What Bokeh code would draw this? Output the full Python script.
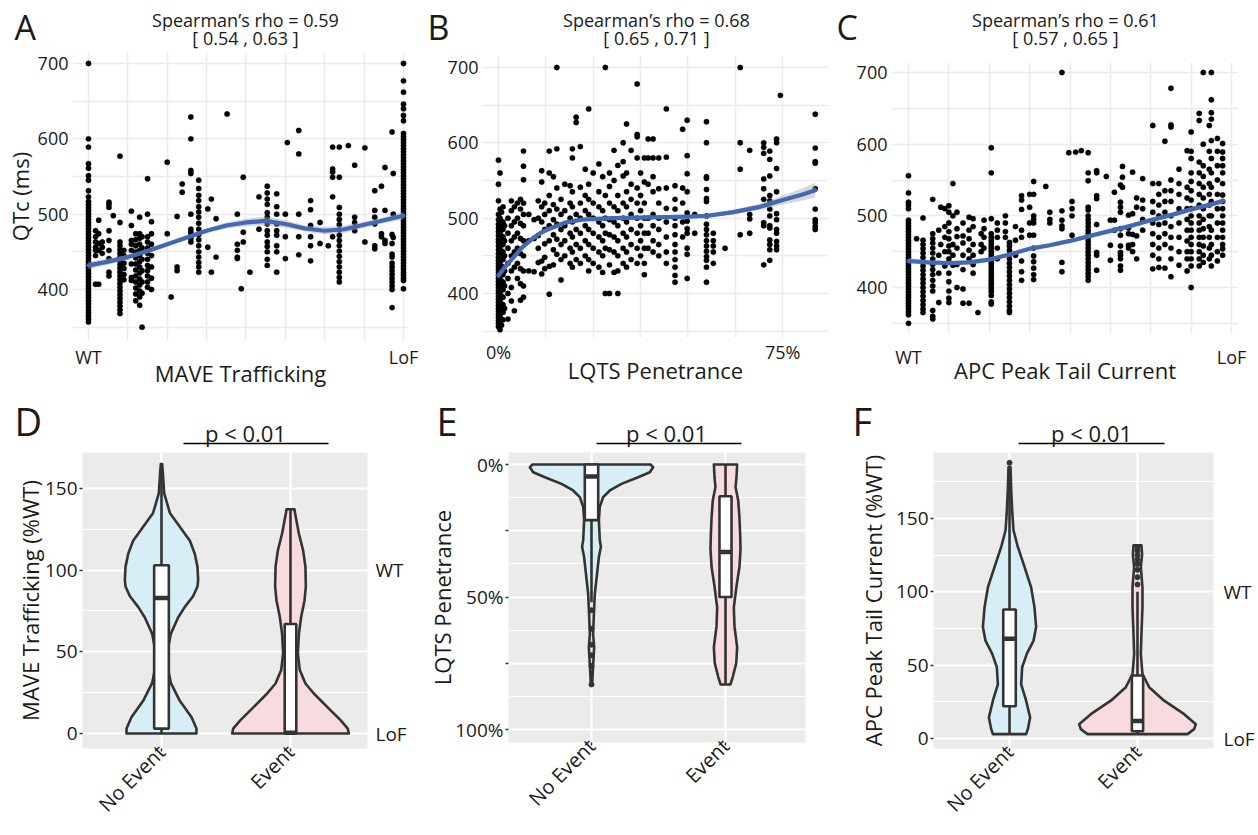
import math
from bokeh.plotting import figure
from bokeh.models import Range1d, FixedTicker, LinearAxis
from bokeh.layouts import row, column
from bokeh.embed import file_html
from bokeh.resources import INLINE
from bokeh.core.properties import value

FONT = "Open Sans"
TXT = "#1a1a1a"
DARK = "#333333"

# ------------------------------------------------------------------ data
# Panel A : MAVE trafficking score (0 = WT ... 8 = LoF) vs QTc (ms)
a_cols = [0, 0.18, 0.26, 0.35, 0.52, 0.63, 0.8, 0.9, 1.09, 1.2, 1.3, 1.36, 1.5, 1.6, 2.0, 2.1,
          2.25, 2.38, 2.6, 2.8, 3.03, 3.12, 3.24, 3.52, 3.78, 3.88, 3.93, 4.1, 4.33, 4.54, 4.78,
          5.0, 5.05, 5.34, 5.64, 5.88, 6.09, 6.2, 6.37, 6.6, 6.76, 7.02, 7.27, 7.44, 7.53, 7.71,
          7.74, 8.0]
a_vals = [
    [700, 600, 589, 567, 561, 551, 545, 531, 523, 517, 513, 509, 505, 501, 497, 493, 489, 485, 481,
     477, 473, 469, 465, 461, 457, 453, 449, 445, 441, 437, 433, 429, 425, 421, 417, 413, 409, 405,
     401, 397, 393, 389, 385, 381, 377, 373, 369, 365, 361, 357],
    [478, 470, 463, 456, 452, 445, 407],
    [492, 474, 461, 452, 407],
    [463, 456, 448],
    [516, 513, 509, 478, 465, 452, 441, 423, 418],
    [498],
    [577, 489, 463, 458, 453, 448, 443, 438, 433, 428, 423, 418, 413, 408, 403, 398, 393, 388, 383,
     378, 373, 368],
    [452, 445, 435, 428, 420, 413],
    [504, 485, 465, 460, 452, 434, 416, 412],
    [474, 466, 458, 450, 442, 434, 426, 418, 410, 402, 394, 385],
    [496, 474, 468, 460, 452, 445, 437, 430, 422, 414, 406, 398, 390, 379],
    [470, 455, 440, 425, 410, 395, 350],
    [547, 500, 470, 463, 455, 448, 440, 432, 425, 418, 410, 403],
    [490, 474, 460, 445, 430, 415, 400],
    [569, 474],
    [390],
    [497, 430, 425],
    [540, 529],
    [629, 600, 558, 554, 500, 480, 476, 472, 468, 463],
    [545, 534, 525, 518, 510, 503, 496, 488, 480, 473, 466, 458, 450, 443, 436, 430, 423],
    [456, 507],
    [520, 423],
    [494, 443],
    [633],
    [500, 460, 452, 443, 441],
    [401],
    [549, 476, 463],
    [423],
    [523, 480],
    [537, 528, 520, 513, 502, 496, 487, 478, 472, 463, 457, 450, 440, 432],
    [527, 510, 500, 487, 478, 472, 458, 450, 423],
    [500, 470, 441],
    [595],
    [611, 580, 500, 470, 446],
    [518, 506, 485, 470, 458, 438],
    [489, 461],
    [458],
    [589, 560, 556, 549, 523, 470],
    [589, 549, 509, 500, 493, 486, 479, 472, 465, 458, 451, 444, 437, 430, 423, 416, 410],
    [591],
    [565, 496, 489, 478],
    [588, 463],
    [531, 505, 496, 487, 458, 454],
    [537, 474, 470],
    [562, 505, 465, 461],
    [609, 473, 461, 447, 443, 435, 430, 425, 420, 415, 410, 405, 400, 376],
    [554, 500, 469],
    [700, 677, 662, 646, 640, 631, 624, 607, 603, 599, 595, 591, 587, 583, 579, 575, 571, 567, 563,
     559, 555, 551, 547, 543, 539, 535, 531, 527, 523, 519, 515, 511, 507, 503, 499, 495, 491, 487,
     483, 479, 475, 471, 467, 463, 459, 455, 451, 447, 443, 439, 435, 431, 427, 423, 419, 415, 412,
     401],
]
a_fit_x = [0, 0.5, 1, 1.5, 2, 2.5, 3, 3.5, 4, 4.5, 5, 5.5, 6, 6.5, 7, 7.5, 8]
a_fit_y = [432, 437, 443, 451, 460, 469, 478, 485, 489, 491, 487, 481, 478, 480, 486, 492, 498]
a_fit_se = [5, 4, 3, 3, 3, 3, 3, 4, 5, 6, 5, 4, 5, 5, 4, 4, 5]

# Panel B : LQTS penetrance (%) vs QTc (ms)
b_cols = [0, 0.4, 0.8, 1.2, 1.6, 2.5, 3.4, 4.2, 5.0, 5.8, 6.6, 8.0, 9.4, 10.5, 11.4, 12.2, 13.4,
          14.5, 15.4, 16.5, 17.5, 18.9, 19.5, 20.5, 21.6, 22.9, 23.8, 25, 26.5, 27.5, 28.2, 29.3,
          30.5, 31.5, 32.9, 33.8, 35, 36.6, 37.5, 38.5, 39.5, 40.8, 42.3, 44.3, 46.6, 48.6, 49.8,
          51.8, 54.9, 56.7, 59.8, 63.8, 66.3, 70, 71.6, 73.4, 74.4, 83.6]
b_vals = [
    [577, 545, 523, 505, 498, 492, 487, 482, 477, 472, 468, 463, 458, 453, 448, 444, 440, 436, 432,
     428, 424, 420, 416, 412, 408, 404, 400, 396, 392, 388, 384, 380, 376, 372, 368, 364, 360, 356],
    [560, 512, 500, 490, 480, 470, 460, 450, 440, 430, 420, 410, 400, 390, 380, 370, 362, 352],
    [508, 495, 486, 476, 466, 456, 446, 436, 426, 416, 406, 396, 386, 376, 366, 358],
    [515, 495, 485, 475, 465, 455, 445, 435, 425, 415, 405, 395, 385, 375, 365],
    [490, 470, 450, 430, 410, 380],
    [500, 480, 460, 440, 420, 400, 366],
    [523, 510, 490, 470, 450, 430, 408, 390],
    [515, 495, 475, 455, 435, 377],
    [520, 500, 480, 460, 440, 420],
    [525, 512, 493, 473, 453, 433, 413, 391],
    [589, 569, 551, 520, 505, 490, 470, 450, 430, 410, 395],
    [505, 470, 430],
    [498, 473, 429],
    [523, 500, 477, 460, 441],
    [563, 548, 515, 495, 443, 426],
    [520, 505, 485, 466, 448, 433],
    [589, 560, 530, 510, 490, 470, 436, 399],
    [555, 518, 498, 478, 458, 438],
    [700, 592, 540, 512, 492, 472, 452],
    [525, 505, 485, 465, 445, 418],
    [545, 510, 490, 470, 450],
    [543, 520, 500, 480, 460, 440],
    [592, 580, 535, 515, 495, 475, 455, 435],
    [634, 627, 505, 485, 465, 445],
    [595, 541, 520, 500, 480, 460, 440],
    [565, 530, 510, 490, 470, 450],
    [645, 545, 525, 505, 485, 465, 445, 430],
    [560, 520, 500, 480, 460, 440],
    [572, 535, 515, 495, 475, 455, 435],
    [555, 510, 490, 470, 450, 428],
    [700, 530, 500, 480, 460, 400],
    [560, 542, 520, 498, 478, 458, 438, 400],
    [590, 550, 515, 495, 475, 455, 428],
    [570, 530, 510, 490, 470, 450, 430, 400],
    [600, 575, 556, 520, 500, 480, 460, 440],
    [625, 560, 535, 515, 495, 475, 455, 435],
    [590, 545, 525, 505, 485, 465, 445],
    [678, 611, 608, 580, 540, 520, 500, 480, 460, 440],
    [560, 530, 510, 490, 470, 450],
    [580, 548, 520, 500, 480, 460, 440, 425],
    [605, 580, 545, 500, 480, 460],
    [605, 580, 555, 535, 505, 490, 470, 455],
    [580, 539, 520, 500, 485, 465, 450],
    [645, 581, 540, 513, 495, 475, 455, 440],
    [543, 525, 512, 500, 490, 478, 465, 455, 445, 435, 424, 415],
    [618, 540, 520, 495, 475],
    [630, 583, 559, 535, 507, 496, 486, 480, 460, 452, 420],
    [505, 480],
    [628, 600, 555, 553, 538, 526, 522, 503, 492, 485, 478, 470, 463, 456, 449, 444, 435, 415],
    [480, 470, 463, 455, 440],
    [460],
    [700, 600, 565, 478],
    [590, 505, 499, 480],
    [600, 594, 586, 552, 539, 525, 494, 490, 438],
    [589, 578, 556, 530, 523, 512, 503, 490, 487, 471, 465, 458, 444],
    [605, 600, 566, 535, 506, 498, 485, 480, 469, 463, 458],
    [663],
    [638, 593, 575, 573, 539, 512, 498, 494, 489, 485],
]
b_fit_x = [0, 2, 4, 6, 8.5, 11, 13, 17.5, 22, 30, 41, 50, 55, 62, 69, 75, 80, 83.6]
b_fit_y = [424, 437, 448, 460, 471, 480, 485, 494, 498, 500, 501, 502, 503, 508, 515, 524, 531, 537]
b_fit_se = [5, 4, 4, 3, 3, 3, 3, 2, 2, 2, 2, 2, 2, 3, 4, 6, 8, 10]

# Panel C : APC peak tail current score (0 = WT ... 8 = LoF) vs QTc (ms)
c_cols = [0, 0.2, 0.36, 0.6, 0.75, 0.8, 0.9, 1.0, 1.1, 1.2, 1.35, 1.5, 1.6, 1.72, 1.8, 1.87, 2.05,
          2.2, 2.4, 2.5, 2.65, 2.8, 3.0, 3.1, 3.4, 3.5, 3.8, 3.97, 4.05, 4.14, 4.28, 4.45, 4.66,
          4.9, 5.0, 5.1, 5.25, 5.3, 5.45, 5.55, 5.65, 5.8, 6.05, 6.2, 6.35, 6.5, 6.7, 6.9, 7.0,
          7.2, 7.3, 7.45, 7.5, 7.65, 7.78]
c_vals = [
    [556, 532, 519, 515, 510, 494, 490, 486, 482, 478, 474, 470, 466, 462, 458, 454, 450, 446, 442,
     438, 434, 430, 426, 422, 418, 414, 410, 406, 402, 398, 394, 390, 386, 382, 378, 374, 370, 366,
     362, 350],
    [468],
    [497, 466, 460, 454, 448, 442, 436, 430, 424, 418, 412, 406, 400, 394, 388, 382, 376, 370, 365],
    [523, 475, 468, 462, 455, 448, 440, 432, 425, 418, 410, 402, 395, 368, 360, 356],
    [480, 445, 420, 379],
    [512, 460],
    [510, 485, 470, 450, 430],
    [514, 505, 490, 478, 468, 458, 450, 440, 420, 408, 395, 385, 379],
    [545, 500, 460, 445, 431],
    [505, 482, 471, 455, 432, 400],
    [490, 472, 462, 445, 425, 398, 378],
    [498, 480, 468, 452, 440, 378],
    [496, 485, 460, 445, 432, 420],
    [365],
    [475, 460, 450],
    [494, 482, 470, 455],
    [595, 560, 496, 475, 470, 466, 462, 458, 454, 450, 446, 442, 438, 434, 430, 426, 422, 418, 414,
     410, 406, 402, 398, 394, 389, 380, 377],
    [490, 480, 470, 455, 440],
    [500, 490, 478, 470],
    [463, 458, 452, 446, 440, 434, 428, 422, 416, 410, 404, 398, 392, 386, 380, 374, 368, 365],
    [485, 466, 445],
    [528, 522, 509, 480, 470, 437, 422, 410],
    [530, 512, 490, 473],
    [548, 530, 500, 495, 490, 473, 455, 444, 436, 427, 418, 411],
    [541],
    [505, 495, 490],
    [700, 507, 494, 486, 482, 435, 422],
    [588],
    [520, 510, 500, 473],
    [589],
    [591],
    [588, 560, 549, 512, 508, 500, 495, 490, 485, 480, 475, 470, 465, 460, 455, 450, 445, 440, 435,
     430, 425, 420, 415, 410],
    [563, 560, 528, 524, 488, 449, 445, 424],
    [555],
    [494, 459, 438],
    [533, 494, 480],
    [543, 519, 512, 505, 482, 473, 458, 449, 445, 440, 430, 424],
    [569, 554, 540],
    [501, 483, 475, 459, 455],
    [561, 503, 474, 460, 450],
    [525, 512, 472, 440],
    [552, 522, 510, 495, 480],
    [626, 545, 520, 505, 490, 475, 460, 445, 426],
    [545, 530, 515, 500, 488, 470, 455, 440, 428],
    [604, 535, 520, 505, 490, 475, 460, 427],
    [678, 627, 624, 550, 535, 520, 500, 485, 470, 455, 440, 415],
    [565, 545, 530, 510, 490, 470, 450, 431],
    [591, 540, 525, 510, 495, 480, 465, 450, 440, 423],
    [617, 590, 580, 560, 548, 535, 522, 510, 500, 490, 480, 470, 460, 450, 440, 430, 400],
    [643, 633, 575, 560, 545, 530, 515, 500, 490, 480, 470, 460, 450, 440, 430],
    [700, 600, 570, 555, 540, 525, 510, 495, 482, 470, 458, 445, 435],
    [626, 590, 565, 545, 530, 515, 500, 485, 470, 455, 440],
    [700, 662, 644, 635, 605, 580, 560, 540, 520, 500, 480, 460, 445, 430],
    [608, 590, 570, 550, 530, 510, 490, 470, 450, 437],
    [601, 589, 580, 570, 560, 545, 529, 520, 510, 500, 490, 480, 470, 460, 454, 445],
]
c_fit_x = [0, 0.5, 1, 1.5, 2, 2.5, 3, 3.5, 4, 4.5, 5, 5.5, 6, 6.5, 7, 7.5, 7.8]
c_fit_y = [437, 435, 434, 435, 439, 446, 454, 459, 465, 472, 479, 486, 494, 501, 509, 516, 521]
c_fit_se = [4, 3, 3, 3, 3, 3, 3, 3, 3, 3, 3, 3, 3, 3, 3, 3, 4]

x_ticks_score = [0, 8]
x_labels_score = {0: "WT", 8: "LoF"}
x_grid_score = [0, 1, 2, 3, 4, 5, 6, 7, 8]
x_ticks_pen = [0, 75]
x_labels_pen = {0: "0%", 75: "75%"}
x_grid_pen = [0, 12.5, 25, 37.5, 50, 62.5, 75]
qtc_ticks = [400, 500, 600, 700]
qtc_minor = [350, 450, 550, 650]

titles_top = ["Spearman\u2019s rho = 0.59", "Spearman\u2019s rho = 0.68", "Spearman\u2019s rho = 0.61"]
ci_top = ["[ 0.54 , 0.63 ]", "[ 0.65 , 0.71 ]", "[ 0.57 , 0.65 ]"]
letters_top = ["A", "B", "C"]
letters_bot = ["D", "E", "F"]
p_text = "p < 0.01"

# Violin panels: categories, density profiles (value, half width in category units), box stats
groups = ["No Event", "Event"]
fill_no = "#D8EEF7"
fill_ev = "#F8DBDE"

d_no_y = [165, 160, 147, 135, 126.5, 118, 110, 102, 94, 90, 84, 77.5, 71, 61, 49, 41, 31, 20, 10, 3, 0]
d_no_w = [0.005, 0.010, 0.021, 0.065, 0.142, 0.220, 0.258, 0.279, 0.284, 0.279, 0.245, 0.181, 0.129,
          0.072, 0.044, 0.047, 0.072, 0.142, 0.233, 0.271, 0.271]
d_ev_y = [137.3, 134.7, 122.4, 112, 102, 90, 81.6, 71.4, 61, 49, 38.8, 30.6, 24.5, 16.3, 8.2, 3, 0]
d_ev_w = [0.031, 0.036, 0.065, 0.098, 0.116, 0.119, 0.109, 0.083, 0.065, 0.057, 0.072, 0.116, 0.181,
          0.284, 0.388, 0.444, 0.452]
d_box = {"lo": [0, 0], "q1": [3, 0], "med": [83, 0.5], "q3": [103, 67], "hi": [165, 137], "hw": [0.057, 0.045]}
d_out = [[], []]

e_no_y = [0, 1, 2.9, 4.8, 7.3, 9.8, 12.3, 16, 21, 28.6, 31, 35, 41, 48.7, 54, 64, 69, 76, 83]
e_no_w = [0.44, 0.46, 0.435, 0.348, 0.224, 0.137, 0.087, 0.062, 0.055, 0.062, 0.070, 0.055, 0.042,
          0.025, 0.020, 0.012, 0.020, 0.012, 0.005]
e_ev_y = [0, 4.8, 8.5, 13.6, 20, 26, 32, 38.7, 46, 54, 61, 69, 75, 80, 83]
e_ev_w = [0.087, 0.082, 0.075, 0.095, 0.104, 0.109, 0.112, 0.104, 0.082, 0.062, 0.067, 0.087, 0.080,
          0.055, 0.037]
e_box = {"lo": [0, 0], "q1": [0, 12], "med": [4.5, 33], "q3": [21, 50], "hi": [52, 83], "hw": [0.05, 0.045]}
e_out = [[55, 62, 68, 72, 76, 83], []]

f_no_y = [185, 170, 155, 142, 130.6, 117, 103, 89.6, 76, 66.8, 57.7, 48.6, 37, 25.8, 14.4, 6.4, 3]
f_no_w = [0.008, 0.013, 0.021, 0.031, 0.065, 0.117, 0.169, 0.195, 0.208, 0.188, 0.135, 0.099, 0.091,
          0.130, 0.161, 0.143, 0.130]
f_ev_y = [131.7, 125, 117, 103, 89.6, 71, 57.7, 44, 35, 25.8, 16.6, 9.8, 6.4, 3]
f_ev_w = [0.031, 0.036, 0.026, 0.039, 0.039, 0.031, 0.026, 0.039, 0.091, 0.208, 0.365, 0.456, 0.443,
          0.391]
f_box = {"lo": [3, 3], "q1": [22, 5], "med": [68, 12], "q3": [88, 43], "hi": [185, 100], "hw": [0.049, 0.044]}
f_out = [[188], [105, 110, 115, 119, 122, 125, 128, 130]]

d_yticks = [0, 50, 100, 150]
d_yminor = [25, 75, 125]
e_yticks = [0, 25, 50, 75, 100]
e_ylabels = {0: "0%", 25: " ", 50: "50%", 75: " ", 100: "100%"}
e_yminor = [12.5, 37.5, 62.5, 87.5]
f_yticks = [0, 50, 100, 150]
f_yminor = [25, 75, 125, 175]

# ------------------------------------------------------------------ layout geometry (page px)
# figure box (x0, y0, w, h) and plotting frame (left, right, top, bottom)
GEO = {
    "A": ((0, 50, 420, 344), (72, 408, 52, 340)),
    "B": ((420, 50, 418, 344), (482, 828, 55, 337)),
    "C": ((838, 50, 420, 344), (891, 1238, 62, 333)),
    "D": ((0, 450, 420, 385), (82, 367, 452, 748)),
    "E": ((420, 450, 418, 385), (508, 805, 452, 742)),
    "F": ((838, 450, 420, 385), (933, 1213, 452, 748)),
}


# ------------------------------------------------------------------ helpers
def flatten(cols, vals):
    xs, ys = [], []
    for cx, col in zip(cols, vals):
        xs += [cx] * len(col)
        ys += list(col)
    return xs, ys


def finish(p):
    p.title = None
    try:
        p.frame_align = False
    except Exception:
        pass
    p.outline_line_color = None
    p.border_fill_color = "white"
    return p


def new_fig(key, xr, yr):
    (x0, y0, w, h), (l, r, t, b) = GEO[key]
    p = figure(width=w, height=h, x_range=Range1d(*xr), y_range=Range1d(*yr),
               toolbar_location=None, output_backend="svg",
               min_border_left=l - x0, min_border_right=x0 + w - r,
               min_border_top=t - y0, min_border_bottom=y0 + h - b)
    return finish(p)


def header(y0, y1):
    p = figure(width=1258, height=y1 - y0, x_range=Range1d(0, 1258), y_range=Range1d(y1, y0),
               toolbar_location=None, output_backend="svg", min_border=0,
               x_axis_type=None, y_axis_type=None)
    finish(p)
    p.grid.visible = False
    p.background_fill_color = "white"
    return p


def style_axis(ax, tick_size, label_size):
    ax.axis_line_color = None
    ax.minor_tick_line_color = None
    ax.minor_tick_out = 0
    ax.minor_tick_in = 0
    ax.major_label_text_font = FONT
    ax.major_label_text_font_size = tick_size
    ax.major_label_text_color = TXT
    ax.axis_label_text_font = FONT
    ax.axis_label_text_font_size = label_size
    ax.axis_label_text_font_style = "normal"
    ax.axis_label_text_color = TXT


def scatter_panel(key, xr, yr, cols, vals, fx, fy, fse, xt, xl, xg, xname, yname,
                  xstand, xlstand):
    p = new_fig(key, xr, yr)
    p.background_fill_color = "white"
    xa = p.xaxis[0]
    ya = p.yaxis[0]
    for ax in (xa, ya):
        style_axis(ax, "18px", "22px")
        ax.major_tick_line_color = None
        ax.major_tick_out = 0
        ax.major_tick_in = 0
    xa.ticker = FixedTicker(ticks=xt)
    xa.major_label_overrides = xl
    xa.axis_label = xname
    xa.major_label_standoff = xstand
    xa.axis_label_standoff = xlstand
    ya.ticker = FixedTicker(ticks=qtc_ticks)
    ya.axis_label = yname
    ya.major_label_standoff = 4
    ya.axis_label_standoff = 0
    p.xgrid.ticker = FixedTicker(ticks=xg)
    p.xgrid.grid_line_color = "#EBEBEB"
    p.xgrid.grid_line_width = 1.6
    p.ygrid.ticker = FixedTicker(ticks=qtc_ticks, minor_ticks=qtc_minor)
    p.ygrid.grid_line_color = "#EBEBEB"
    p.ygrid.grid_line_width = 1.6
    p.ygrid.minor_grid_line_color = "#EBEBEB"
    p.ygrid.minor_grid_line_width = 1.3

    xs, ys = flatten(cols, vals)
    p.scatter(xs, ys, size=5.4, fill_color="black", line_color="black", line_width=0.3)
    lo = [y - s for y, s in zip(fy, fse)]
    hi = [y + s for y, s in zip(fy, fse)]
    p.varea(x=fx, y1=lo, y2=hi, fill_color="#A8A8A8", fill_alpha=0.45)
    p.line(fx, fy, line_color="#4467B6", line_width=4.2, line_join="round", line_cap="round")
    return p


def violin_panel(key, xr, yr, profiles, box, outs, yt, ylab, ymin, yname, ystand, right):
    p = new_fig(key, xr, yr)
    p.background_fill_color = "#EBEBEB"
    xa = p.xaxis[0]
    ya = p.yaxis[0]
    style_axis(xa, "20px", "22px")
    style_axis(ya, "19px", "22px")
    for ax in (xa, ya):
        ax.major_tick_line_color = DARK
        ax.major_tick_line_width = 1.5
        ax.major_tick_in = 0
        ax.major_tick_out = 3
    xa.ticker = FixedTicker(ticks=[1, 2])
    xa.major_label_overrides = {1: groups[0], 2: groups[1]}
    xa.major_label_orientation = math.pi / 4
    xa.major_label_standoff = -3
    ya.ticker = FixedTicker(ticks=yt)
    if ylab:
        ya.major_label_overrides = ylab
    ya.major_label_standoff = 2
    ya.axis_label = yname
    ya.axis_label_standoff = ystand
    p.xgrid.ticker = FixedTicker(ticks=[1, 2])
    p.xgrid.grid_line_color = "white"
    p.xgrid.grid_line_width = 2.2
    p.ygrid.ticker = FixedTicker(ticks=yt, minor_ticks=ymin)
    p.ygrid.grid_line_color = "white"
    p.ygrid.grid_line_width = 2.2
    p.ygrid.minor_grid_line_color = "white"
    p.ygrid.minor_grid_line_width = 1.1
    if right:
        ra = LinearAxis(ticker=FixedTicker(ticks=[0, 100]),
                        major_label_overrides={0: "LoF", 100: "WT"})
        style_axis(ra, "19px", "19px")
        ra.major_tick_line_color = None
        ra.major_tick_out = 0
        ra.major_tick_in = 0
        ra.major_label_standoff = right
        p.add_layout(ra, "right")

    fills = [fill_no, fill_ev]
    for i, (ys, ws) in enumerate(profiles):
        c = i + 1
        xs = [c + w for w in ws] + [c - w for w in ws[::-1]]
        yy = list(ys) + list(ys[::-1])
        p.patch(xs, yy, fill_color=fills[i], line_color=DARK, line_width=2.6, line_join="round")
    cs = [1, 2]
    hw = box["hw"]
    p.segment(x0=cs, y0=box["q3"], x1=cs, y1=box["hi"], line_color=DARK, line_width=2.6)
    p.segment(x0=cs, y0=box["lo"], x1=cs, y1=box["q1"], line_color=DARK, line_width=2.6)
    p.quad(left=[c - h for c, h in zip(cs, hw)], right=[c + h for c, h in zip(cs, hw)],
           bottom=box["q1"], top=box["q3"], fill_color="white", line_color=DARK, line_width=2.6)
    p.segment(x0=[c - h for c, h in zip(cs, hw)], y0=box["med"], x1=[c + h for c, h in zip(cs, hw)],
              y1=box["med"], line_color=DARK, line_width=4.5)
    ox, oy = flatten(cs, outs)
    if ox:
        p.scatter(ox, oy, size=5, fill_color=DARK, line_color=DARK)
    return p


# ------------------------------------------------------------------ header rows (page px coords)
h_top = header(0, 50)
h_top.text(x=[14, 427, 836], y=[26.5] * 3, text=letters_top, text_font=value(FONT),
           text_font_size="34px", text_align="left", text_baseline="middle", text_color=TXT)
h_top.text(x=[245, 656, 1065], y=[19.5] * 3, text=titles_top, text_font=value(FONT),
           text_font_size="18px", text_align="center", text_baseline="middle", text_color=TXT)
h_top.text(x=[245, 656, 1065], y=[37.5] * 3, text=ci_top, text_font=value(FONT),
           text_font_size="18px", text_align="center", text_baseline="middle", text_color=TXT)

h_bot = header(394, 450)
h_bot.text(x=[14, 436, 852], y=[420] * 3, text=letters_bot, text_font=value(FONT),
           text_font_size="38px", text_align="left", text_baseline="middle", text_color=TXT)
h_bot.text(x=[245, 666, 1091], y=[432.5] * 3, text=[p_text] * 3, text_font=value(FONT),
           text_font_size="22px", text_align="center", text_baseline="middle", text_color=TXT)
h_bot.segment(x0=[183, 596, 1018], y0=[443] * 3, x1=[328, 741, 1164], y1=[443] * 3,
              line_color="black", line_width=1.5)

# ------------------------------------------------------------------ panels
pa = scatter_panel("A", (-0.406, 8.127), (332.3, 714.6), a_cols, a_vals, a_fit_x, a_fit_y, a_fit_se,
                   x_ticks_score, x_labels_score, x_grid_score, "MAVE Trafficking", "QTc (ms)", 4, -14)
pb = scatter_panel("B", (-4.22, 87.1), (341.6, 715.9), b_cols, b_vals, b_fit_x, b_fit_y, b_fit_se,
                   x_ticks_pen, x_labels_pen, x_grid_pen, "LQTS Penetrance", None, 2, -12)
pc = scatter_panel("C", (-0.421, 8.173), (335.8, 714.0), c_cols, c_vals, c_fit_x, c_fit_y, c_fit_se,
                   x_ticks_score, x_labels_score, x_grid_score, "APC Peak Tail Current", None, 11, -17)

pd_ = violin_panel("D", (0.3876, 2.597), (-9.18, 172.0), [(d_no_y, d_no_w), (d_ev_y, d_ev_w)],
                   d_box, d_out, d_yticks, None, d_yminor, "MAVE Trafficking (%WT)", -3, 8)
pe = violin_panel("E", (0.3806, 2.597), (104.9, -4.53), [(e_no_y, e_no_w), (e_ev_y, e_ev_w)],
                  e_box, e_out, e_yticks, e_ylabels, e_yminor, "LQTS Penetrance", -5, 0)
pf = violin_panel("F", (0.406, 2.594), (-6.8, 195.0), [(f_no_y, f_no_w), (f_ev_y, f_ev_w)],
                  f_box, f_out, f_yticks, None, f_yminor, "APC Peak Tail Current (%WT)", 5, 10)

layout = column(h_top, row(pa, pb, pc), h_bot, row(pd_, pe, pf))

open("out.html", "w").write(file_html(layout, INLINE))
